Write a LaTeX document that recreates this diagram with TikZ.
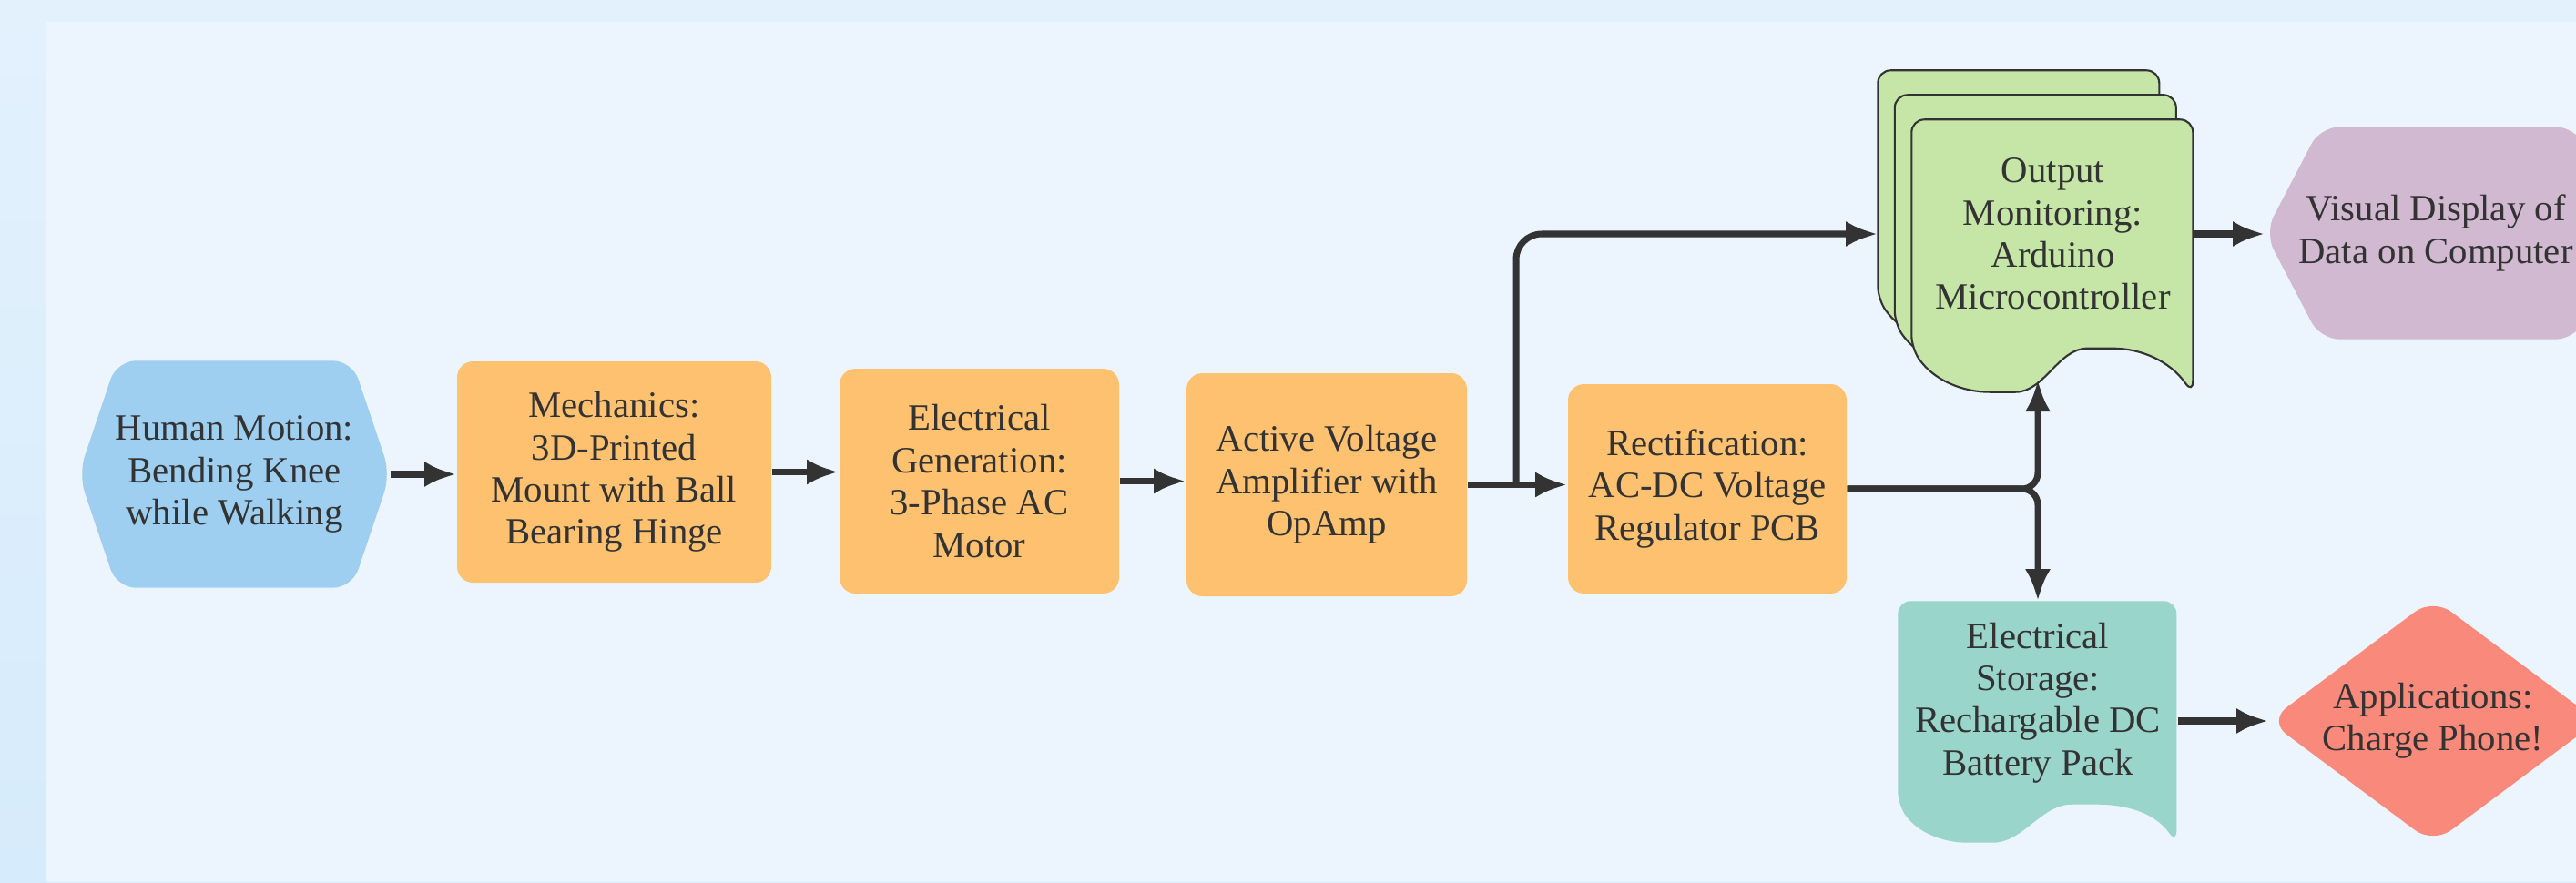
\documentclass[tikz,border=0pt]{standalone}
\usepackage{fontspec}
\setmainfont{Liberation Serif}
\newfontfamily\chartfont{Liberation Serif}
\usepackage{xcolor}
\usepackage{tikz}
\usetikzlibrary{positioning, arrows.meta, backgrounds}

\definecolor{outertop}{HTML}{E3F1FD}
\definecolor{outerbottom}{HTML}{D6EBFB}
\definecolor{panelbg}{HTML}{ECF4FD}
\definecolor{motionblue}{HTML}{9ECFF0}
\definecolor{stageorange}{HTML}{FEC170}
\definecolor{monitorgreen}{HTML}{C6E6A8}
\definecolor{displaypurple}{HTML}{D2B9D2}
\definecolor{storageteal}{HTML}{9AD5CB}
\definecolor{appsalmon}{HTML}{F98A7B}
\definecolor{ink}{HTML}{333333}

\begin{document}
\begin{tikzpicture}[txt/.style={align=center, text=ink, inner sep=0pt, font=\chartfont\fontsize{11.6}{13.2}\selectfont},
    stage/.style={txt, fill=stageorange, rounded corners=5pt},
    conn/.style={draw=ink, line width=2pt, ->},
    page/.style={fill=monitorgreen, draw=ink, line width=0.6pt, rounded corners=4pt}]
        \tikzset{>={Latex[length=10pt,width=8pt]}}

        \useasboundingbox (0,0) rectangle (28.29,9.69);

        % Main chain
        \node[txt, minimum width=3.41cm, minimum height=2.48cm] (motion) at (2.575,4.48) {Human Motion:\\Bending Knee\\while Walking};
        \node[stage, minimum width=3.45cm, minimum height=2.43cm] (mech) at (6.745,4.505) {Mechanics:\\3D-Printed\\Mount with Ball\\Bearing Hinge};
        \node[stage, minimum width=3.07cm, minimum height=2.47cm] (gen) at (10.755,4.405) {Electrical\\Generation:\\3-Phase AC\\Motor};
        \node[stage, minimum width=3.08cm, minimum height=2.45cm] (amp) at (14.57,4.365) {Active Voltage\\Amplifier with\\OpAmp};
        \node[stage, minimum width=3.06cm, minimum height=2.30cm] (rect) at (18.75,4.32) {Rectification:\\AC-DC Voltage\\Regulator PCB};

        % Outputs
        \node[txt, minimum width=3.09cm, minimum height=2.50cm] (mon) at (22.545,7.12) {Output\\Monitoring:\\Arduino\\Microcontroller};
        \node[txt, minimum width=3.74cm, minimum height=2.32cm] (vis) at (26.75,7.13) {Visual Display of\\Data on Computer};
        \node[txt, minimum width=3.06cm, minimum height=2.22cm] (store) at (22.38,1.97) {Electrical\\Storage:\\Rechargable DC\\Battery Pack};
        \node[txt, minimum width=3.6cm, minimum height=2.68cm] (app) at (26.72,1.77) {Applications:\\Charge Phone!};

        \coordinate (split) at (16.65,4.365);
        \coordinate (monin) at (22.38,5.52);

        % Connectors
        \draw[conn] (motion.east) -- (motion.east -| mech.west);
        \draw[conn] (mech.east) -- (mech.east -| gen.west);
        \draw[conn] (gen.east) -- (gen.east -| amp.west);
        \draw[conn] (amp.east) -- (amp.east -| rect.west);
        \draw[conn, rounded corners=8pt] (split) |- ([xshift=-3.7mm]mon.west);
        \draw[conn, rounded corners=5pt] (rect.east) -| (monin);
        \draw[conn, rounded corners=5pt] (rect.east) -| (store.north);
        \draw[conn] (mon.east) -- (mon.east -| vis.west);
        \draw[conn] (app.west -| store.east) -- (app.west);

        % Shapes behind the texts
        \begin{scope}[on background layer]
          \clip (0,0) rectangle (28.29,9.69);
          \shade[top color=outertop, bottom color=outerbottom] (0,0) rectangle (28.29,9.69);
          \fill[panelbg] (0.51,0) rectangle (28.29,9.45);

          \fill[motionblue, rounded corners=6pt] (motion.west) -- ([xshift=0.42cm]motion.north west) -- ([xshift=-0.42cm]motion.north east) -- (motion.east) -- ([xshift=-0.42cm]motion.south east) -- ([xshift=0.42cm]motion.south west) -- cycle;
          \fill[displaypurple, rounded corners=6pt] (vis.west) -- ([xshift=0.61cm]vis.north west) -- ([xshift=-0.35cm]vis.north east) -- ([xshift=0.26cm]vis.east) -- ([xshift=-0.35cm]vis.south east) -- ([xshift=0.61cm]vis.south west) -- cycle;
          \fill[appsalmon, rounded corners=7pt] (app.west) -- (app.north) -- (app.east) -- (app.south) -- cycle;

          % Wavy pages
          \fill[storageteal, rounded corners=4pt] (store.south west) to[out=-55,in=180] ++(0.9,-0.42) to[out=0,in=180] ++(1.15,0.42) to[out=0,in=125] ++(1.01,-0.43) |- (store.north west) -- cycle;
          \foreach \k in {2,1,0} {
            \filldraw[page] ([shift={(-0.185*\k,0.27*\k)}]mon.south west) to[out=-55,in=180] ++(1.0,-0.48) to[out=0,in=180] ++(1.07,0.48) to[out=0,in=125] ++(1.02,-0.5) |- ([shift={(-0.185*\k,0.27*\k)}]mon.north west) -- cycle;
          }
        \end{scope}
    \end{tikzpicture}
\end{document}
